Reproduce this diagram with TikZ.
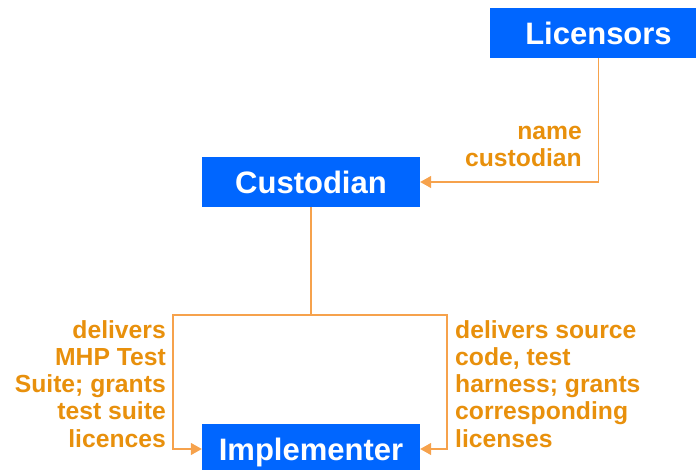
\documentclass[tikz,border=0pt]{standalone}
\usepackage{fontspec}
\setmainfont{Liberation Sans}
\usetikzlibrary{arrows.meta}
\definecolor{roleblue}{HTML}{0066FF}
\definecolor{flowline}{HTML}{F6A24C}
\definecolor{flowtext}{HTML}{E8900C}
\tikzset{
  role/.style={rectangle, fill=roleblue, text=white, inner sep=0pt,
    minimum width=218pt, minimum height=50pt, text height=22.5pt, text depth=0pt,
    font=\fontsize{31}{31}\selectfont\bfseries},
  conn/.style={draw=flowline, line width=1.4pt},
  tip/.style={-{Triangle[length=11pt,width=12pt]}},
  flow/.style={text=flowtext, inner sep=0pt,
    font=\fontsize{24.7}{27.2}\selectfont\bfseries},
}
\begin{document}
\begin{tikzpicture}[x=1pt,y=-1pt]
  \clip (0,0) rectangle (696,470);
  % the three parties
  \node[role] (lic) at (598.5,33) {Licensors};
  \node[role] (cus) at (311,182) {Custodian};
  \node[role] (imp) at (311,449) {Implementer};
  % branch points of the lower connector
  \coordinate (split) at (311,315);
  \coordinate (jl) at (173,315);
  \coordinate (jr) at (447,315);
  % connectors
  \draw[conn,tip] (lic.south) |- (cus.east);
  \draw[conn] (cus.south) -- (split);
  \draw[conn,tip] (split) -- (jl) |- (imp.west);
  \draw[conn,tip] (split) -- (jr) |- (imp.east);
  % connector labels (anchored on the baseline of their last line)
  \node[flow, align=right, anchor=base east] (lname) at (582,167) {name\\custodian};
  \node[flow, align=right, anchor=base east] (lsuite) at (166,447)
    {delivers\\MHP Test\\Suite; grants\\test suite\\licences};
  \node[flow, align=left, anchor=base west] (lsource) at (455,447)
    {delivers source\\code, test\\harness; grants\\corresponding\\licenses};
\end{tikzpicture}
\end{document}
